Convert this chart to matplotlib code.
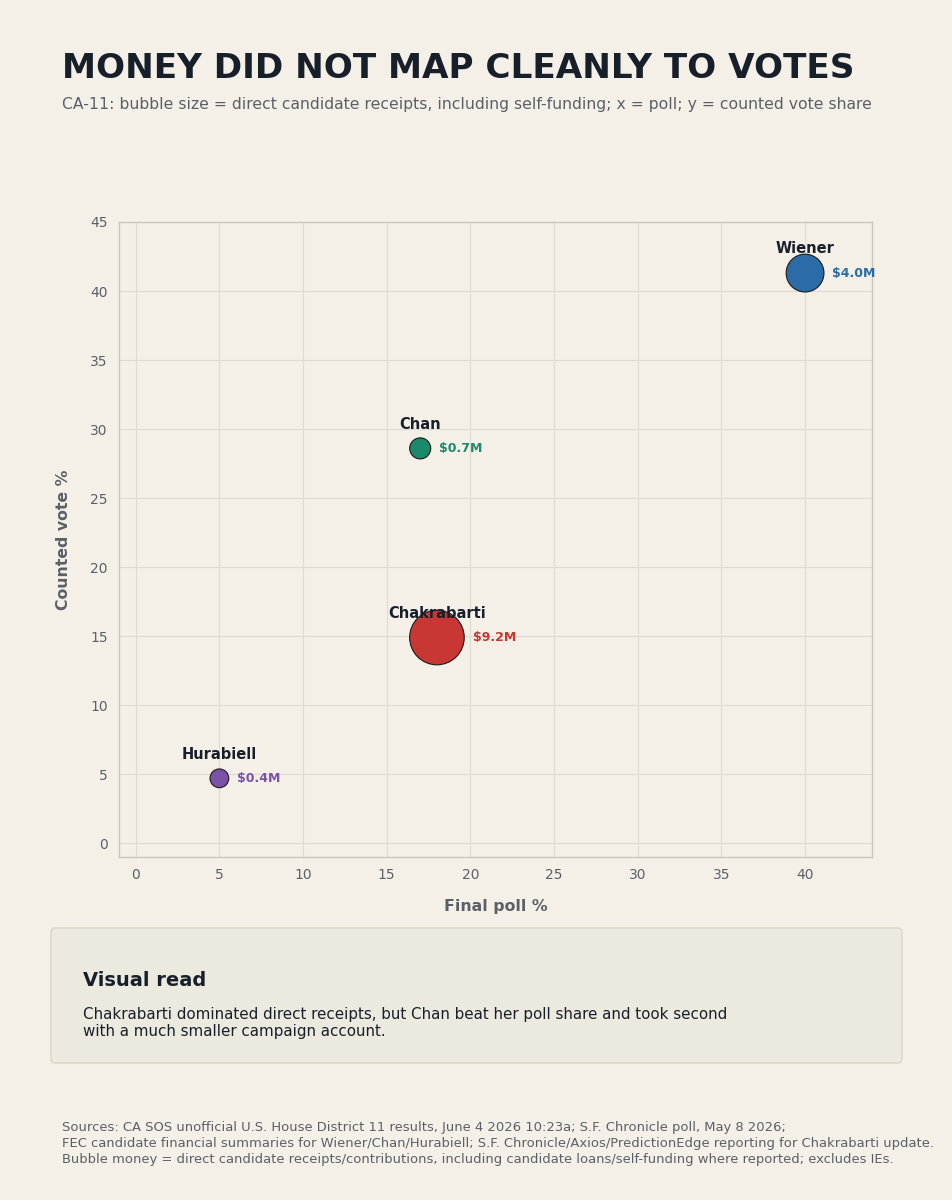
import matplotlib
matplotlib.use("Agg")
import matplotlib.pyplot as plt
from matplotlib.patches import FancyBboxPatch
import numpy as np

plt.rcParams['font.family'] = ['DejaVu Sans']

candidates = ["Wiener", "Chan", "Chakrabarti", "Hurabiell"]
poll = [40, 17, 18, 5]
vote = [41.3, 28.6, 14.9, 4.7]
money = [4.0, 0.7, 9.2, 0.4]
money_labels = ["$4.0M", "$0.7M", "$9.2M", "$0.4M"]
colors = ["#2b6ca8", "#1b8a6b", "#c83733", "#7b52a8"]
x_ticks = [0, 5, 10, 15, 20, 25, 30, 35, 40]
y_ticks = [0, 5, 10, 15, 20, 25, 30, 35, 40, 45]

BG = "#f4f0e8"
DARK = "#17202a"
GRAY = "#5b6068"

fig = plt.figure(figsize=(9.53, 12.0), dpi=100, facecolor=BG)
W, H = 953, 1200

ax = fig.add_axes([119 / W, 1 - 857 / H, (872 - 119) / W, (857 - 222) / H])
ax.set_facecolor(BG)
ax.set_xlim(-1, 44)
ax.set_ylim(-1, 45)
ax.set_xticks(x_ticks)
ax.set_yticks(y_ticks)
ax.tick_params(length=0, labelsize=10, labelcolor=GRAY, pad=8)
ax.grid(True, color="#e0dbd2", linewidth=0.8)
ax.set_axisbelow(True)
for s in ax.spines.values():
    s.set_color("#cbc6bd")
    s.set_linewidth(1.0)

sizes = [120 + 155 * m for m in money]
ax.scatter(poll, vote, s=sizes, c=colors, edgecolors="#1a1a1a", linewidths=0.8, zorder=3)

for name, x, y, s, lab, col in zip(candidates, poll, vote, sizes, money_labels, colors):
    r = np.sqrt(s) / 2  # radius in points
    ax.annotate(name, (x, y), xytext=(0, 17.5), textcoords="offset points",
                ha="center", va="center", fontsize=10.5, fontweight="bold",
                color=DARK, zorder=4)
    ax.annotate(lab, (x, y), xytext=(r + 6, 0), textcoords="offset points",
                ha="left", va="center", fontsize=9, fontweight="bold", color=col,
                zorder=4,
                arrowprops=dict(arrowstyle="-", color=col, lw=1.0,
                                shrinkA=r + 0.5, shrinkB=1.5))

ax.set_xlabel("Final poll %", fontsize=11.3, fontweight="bold", color=GRAY, labelpad=12)
ax.set_ylabel("Counted vote %", fontsize=11.3, fontweight="bold", color=GRAY, labelpad=14)

fig.text(62 / W, 1 - 69 / H, "MONEY DID NOT MAP CLEANLY TO VOTES", fontsize=24.7,
         fontweight="bold", color=DARK, ha="left", va="center")
fig.text(62 / W, 1 - 105 / H,
         "CA-11: bubble size = direct candidate receipts, including self-funding; x = poll; y = counted vote share",
         fontsize=11.25, color=GRAY, ha="left", va="center")

box = FancyBboxPatch((51 / W, 1 - 1063 / H), (902 - 51) / W, (1063 - 928) / H,
                     boxstyle="round,pad=0,rounding_size=0.004",
                     transform=fig.transFigure, facecolor="#ece9df",
                     edgecolor="#d9d5c8", linewidth=1.0)
fig.patches.append(box)
fig.text(83 / W, 1 - 980 / H, "Visual read", fontsize=14, fontweight="bold",
         color=DARK, ha="left", va="center")
fig.text(83 / W, 1 - 1023 / H,
         "Chakrabarti dominated direct receipts, but Chan beat her poll share and took second\nwith a much smaller campaign account.",
         fontsize=10.93, color=DARK, ha="left", va="center", linespacing=1.2)

fig.text(62 / W, 1 - 1143.5 / H,
         "Sources: CA SOS unofficial U.S. House District 11 results, June 4 2026 10:23a; S.F. Chronicle poll, May 8 2026;\n"
         "FEC candidate financial summaries for Wiener/Chan/Hurabiell; S.F. Chronicle/Axios/PredictionEdge reporting for Chakrabarti update.\n"
         "Bubble money = direct candidate receipts/contributions, including candidate loans/self-funding where reported; excludes IEs.",
         fontsize=9.45, color=GRAY, ha="left", va="center", linespacing=1.32)

fig.savefig("out.png", dpi=100, facecolor=BG)
